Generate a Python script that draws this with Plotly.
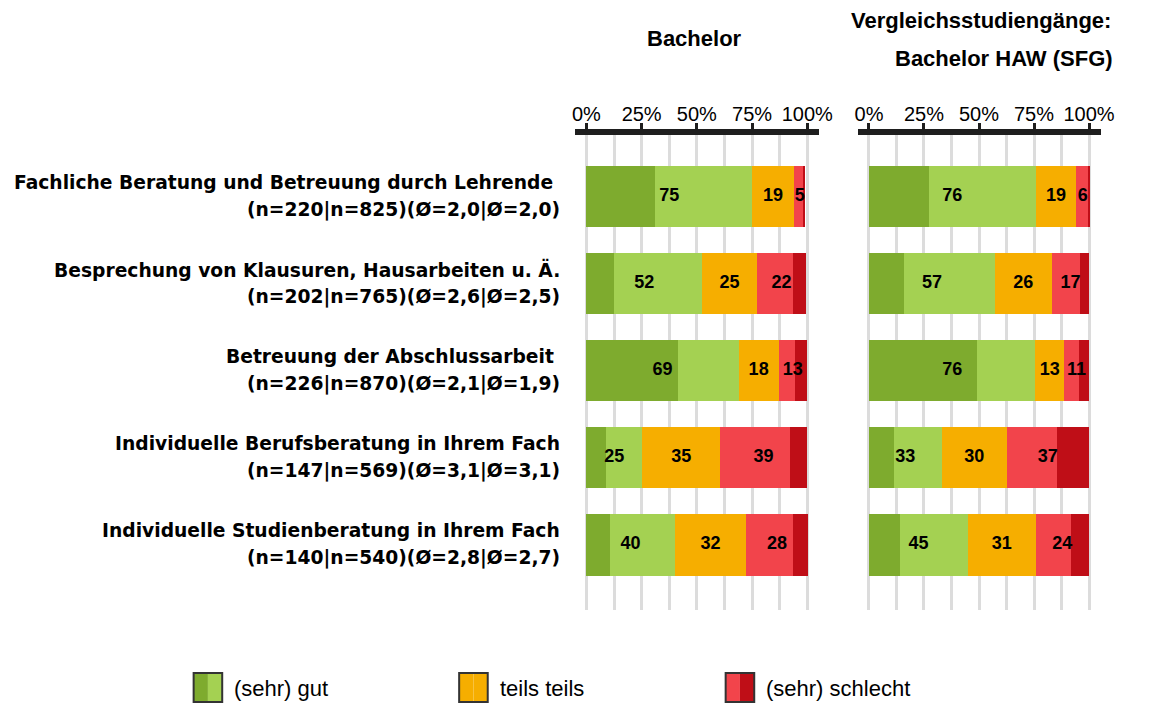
import plotly.graph_objects as go

# ---------------- data ----------------
categories = [
    "Fachliche Beratung und Betreuung durch Lehrende\u00a0",
    "Besprechung von Klausuren, Hausarbeiten u. Ä.",
    "Betreuung der Abschlussarbeit\u00a0",
    "Individuelle Berufsberatung in Ihrem Fach",
    "Individuelle Studienberatung in Ihrem Fach",
]
sample_info = [
    "(n=220|n=825)(Ø=2,0|Ø=2,0)",
    "(n=202|n=765)(Ø=2,6|Ø=2,5)",
    "(n=226|n=870)(Ø=2,1|Ø=1,9)",
    "(n=147|n=569)(Ø=3,1|Ø=3,1)",
    "(n=140|n=540)(Ø=2,8|Ø=2,7)",
]
panel_titles = ["Bachelor", "Vergleichsstudiengänge:", "Bachelor HAW (SFG)"]
tick_vals = [0, 25, 50, 75, 100]
tick_text = ["0%", "25%", "50%", "75%", "100%"]
legend_labels = ["(sehr) gut", "teils teils", "(sehr) schlecht"]

# Bachelor (left panel), percent per answer category
ba_sehr_gut = [31.0, 12.5, 41.5, 9.0, 10.7]
ba_gut = [44.0, 39.8, 27.5, 16.3, 29.3]
ba_teils = [19.0, 25.0, 18.0, 35.3, 32.3]
ba_schlecht = [4.6, 16.2, 7.6, 31.6, 21.4]
ba_sehr_schlecht = [0.6, 6.0, 5.4, 7.6, 6.7]

# Vergleichsstudiengänge (right panel)
vg_sehr_gut = [27.3, 16.1, 49.3, 11.2, 14.3]
vg_gut = [48.4, 41.1, 26.3, 21.9, 30.8]
vg_teils = [18.6, 25.8, 13.1, 29.6, 30.6]
vg_schlecht = [5.3, 13.0, 6.7, 22.8, 16.1]
vg_sehr_schlecht = [0.5, 4.1, 4.5, 14.4, 8.3]

# ---------------- style ----------------
W, H = 1150, 704
C_DG, C_LG, C_OR, C_LR, C_DR = "#7EAB2E", "#A4D152", "#F6AE00", "#F2444B", "#BF0E17"
GRID = "#DCDCDC"
AXIS = "#1E1E1E"
LABEL_FONT = "DejaVu Sans, Open Sans, sans-serif"
ARIAL = "Liberation Sans, Arial, sans-serif"


def px(x):
    return x / W


def py(y):
    return 1 - y / H


ypos = list(range(len(categories)))
fig = go.Figure()

panels = [
    ("x", "y", ba_sehr_gut, ba_gut, ba_teils, ba_schlecht, ba_sehr_schlecht),
    ("x2", "y2", vg_sehr_gut, vg_gut, vg_teils, vg_schlecht, vg_sehr_schlecht),
]


def rnd(v):
    return int(v + 0.5)


for xa, ya, sg, g, t, s, ss in panels:
    for vals, col in zip([sg, g, t, s, ss], [C_DG, C_LG, C_OR, C_LR, C_DR]):
        fig.add_trace(go.Bar(
            x=vals, y=ypos, orientation="h", xaxis=xa, yaxis=ya,
            marker=dict(color=col, line=dict(width=0)), width=0.706,
            showlegend=False, hoverinfo="skip",
        ))
    green = [a + b for a, b in zip(sg, g)]
    red = [a + b for a, b in zip(s, ss)]
    xs, ys, txt = [], [], []
    for i in ypos:
        xs += [green[i] / 2, green[i] + t[i] / 2, green[i] + t[i] + red[i] / 2]
        ys += [i, i, i]
        txt += [str(rnd(green[i])), str(rnd(t[i])), str(rnd(red[i]))]
    fig.add_trace(go.Scatter(
        x=xs, y=ys, text=txt, mode="text", xaxis=xa, yaxis=ya,
        textfont=dict(family=ARIAL, size=18, color="black", weight="bold"),
        textposition="middle center", showlegend=False, hoverinfo="skip",
        cliponaxis=False,
    ))

xaxis_common = dict(
    range=[-5, 105.5], side="top", tickmode="array", tickvals=tick_vals,
    ticktext=tick_text, showline=True, linecolor=AXIS, linewidth=6,
    ticks="outside", ticklen=6, tickwidth=3, tickcolor=AXIS,
    ticklabelstandoff=-6,
    showgrid=True, gridcolor=GRID, gridwidth=3, zeroline=False,
    tickfont=dict(family=ARIAL, size=20, color="black"),
    minor=dict(tickvals=[12.5, 37.5, 62.5, 87.5], showgrid=True,
               gridcolor=GRID, gridwidth=3, ticks=""),
    fixedrange=True,
)
yaxis_common = dict(
    range=[4.749, -0.713], domain=[py(610), py(134.5)], showticklabels=False,
    showgrid=False, zeroline=False, showline=False, fixedrange=True,
)

fig.update_layout(
    width=W, height=H, margin=dict(l=0, r=0, t=0, b=0), autosize=False,
    paper_bgcolor="white", plot_bgcolor="white", barmode="stack",
    xaxis=dict(domain=[px(581), px(828.6)], anchor="y", **xaxis_common),
    xaxis2=dict(domain=[px(867.8), px(1114.6)], anchor="y2", **xaxis_common),
    yaxis=dict(anchor="x", **yaxis_common),
    yaxis2=dict(anchor="x2", **yaxis_common),
)

annotations = []
# panel titles
title_font = dict(family=ARIAL, size=22, color="black", weight="bold")
annotations.append(dict(text=panel_titles[0], x=px(701.5), y=py(38.5), xref="paper", yref="paper",
                        xanchor="center", yanchor="middle", showarrow=False, font=title_font))
annotations.append(dict(text=panel_titles[1], x=px(993), y=py(21), xref="paper", yref="paper",
                        xanchor="center", yanchor="middle", showarrow=False, font=title_font))
annotations.append(dict(text=panel_titles[2], x=px(1016), y=py(58), xref="paper", yref="paper",
                        xanchor="center", yanchor="middle", showarrow=False, font=title_font))

# category labels (two lines, right aligned)
lab_font = dict(family=LABEL_FONT, size=18.7, color="black", weight="bold")
for i, (c, n) in enumerate(zip(categories, sample_info)):
    annotations.append(dict(text=c, x=px(567), y=i, xref="paper", yref="y", yshift=14,
                            xanchor="right", yanchor="middle", showarrow=False, font=lab_font))
    annotations.append(dict(text=n, x=px(567), y=i, xref="paper", yref="y", yshift=-13,
                            xanchor="right", yanchor="middle", showarrow=False, font=lab_font))

# manual legend with split swatches
legend_font = dict(family=ARIAL, size=22, color="black")
swatches = [
    (193.5, [C_DG, C_LG]),
    (463.0, [C_OR, C_OR]),
    (733.5, [C_LR, C_DR]),
]
shapes = []
for (x0, cols), lab in zip(swatches, legend_labels):
    w = 29
    shapes.append(dict(type="rect", xref="paper", yref="paper", x0=px(x0), x1=px(x0 + w / 2),
                       y0=py(702), y1=py(673), fillcolor=cols[0], line=dict(width=0)))
    shapes.append(dict(type="rect", xref="paper", yref="paper", x0=px(x0 + w / 2), x1=px(x0 + w),
                       y0=py(702), y1=py(673), fillcolor=cols[1], line=dict(width=0)))
    shapes.append(dict(type="rect", xref="paper", yref="paper", x0=px(x0), x1=px(x0 + w),
                       y0=py(702), y1=py(673), fillcolor="rgba(0,0,0,0)",
                       line=dict(color="#333333", width=2)))
    annotations.append(dict(text=lab, x=px(x0 + w + 10), y=py(688), xref="paper", yref="paper",
                            xanchor="left", yanchor="middle", showarrow=False, font=legend_font))

fig.update_layout(annotations=annotations, shapes=shapes)
fig.write_html(
    "out.html",
    config={"displayModeBar": False},
    post_script="document.body.style.margin='0';document.body.style.overflow='hidden';",
)
